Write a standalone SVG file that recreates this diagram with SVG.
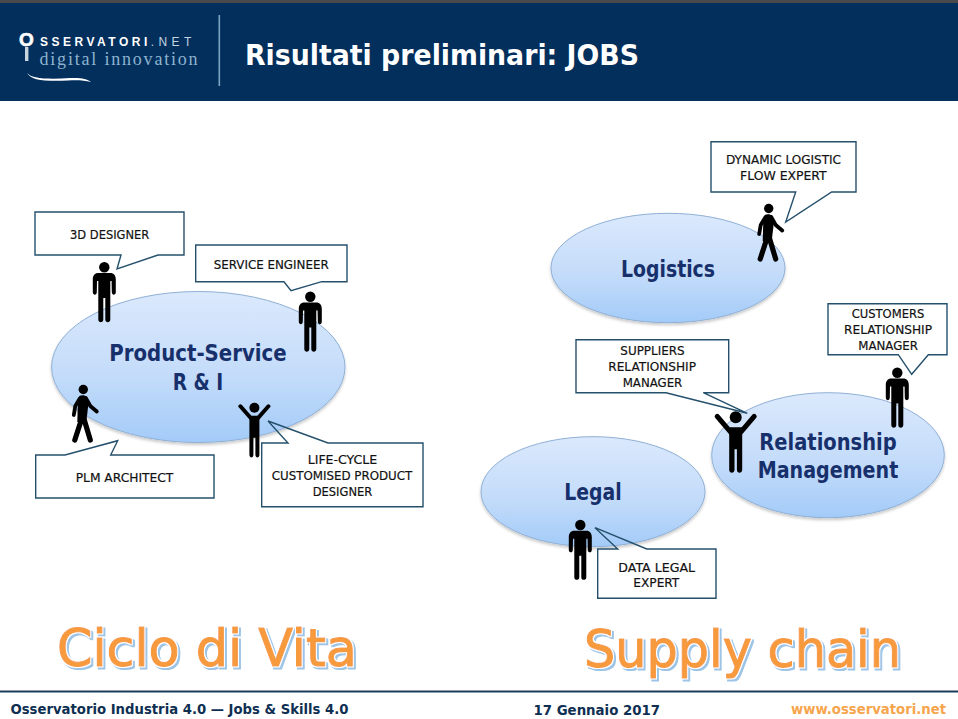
<svg xmlns="http://www.w3.org/2000/svg" xmlns:xlink="http://www.w3.org/1999/xlink" width="958" height="719" viewBox="0 0 958 719">
<style>
text{font-family:"DejaVu Sans","Liberation Sans",sans-serif}
.e{fill:url(#eg);stroke:#8fb0d6;stroke-width:1;filter:url(#sh)}
.c{fill:none;stroke:#24506c;stroke-width:1.4;stroke-linejoin:miter}
.b{fill:#fff}
.ct{font-size:13px;fill:#111;stroke:#111;stroke-width:0.2}
.el{font-size:23px;font-weight:bold;fill:#17306b}
.big{font-size:52px;fill:#f79a3c;stroke:#f79a3c;stroke-width:1.1;filter:url(#outl)}
.ft{font-size:14px;font-weight:bold;fill:#0f2f52}
</style>
<defs>
<linearGradient id="eg" x1="0" y1="0" x2="0" y2="1"><stop offset="0" stop-color="#dbe9fc"/><stop offset="0.55" stop-color="#c4dcfa"/><stop offset="1" stop-color="#a3cbf8"/></linearGradient>
<filter id="sh" x="-5%" y="-5%" width="110%" height="115%"><feDropShadow dx="0" dy="2" stdDeviation="1.5" flood-color="#000" flood-opacity="0.22"/></filter>
<filter id="outl" x="-5%" y="-10%" width="110%" height="125%">
<feMorphology in="SourceAlpha" operator="dilate" radius="1" result="d"/>
<feOffset in="d" dx="1.5" dy="1.5" result="o"/>
<feFlood flood-color="#9cc4e6"/><feComposite in2="o" operator="in" result="blue"/>
<feFlood flood-color="#fff"/><feComposite in2="d" operator="in" result="white"/>
<feMerge><feMergeNode in="blue"/><feMergeNode in="white"/><feMergeNode in="SourceGraphic"/></feMerge>
</filter>
<g id="stand"><circle cx="0" cy="5.300" r="5.200"/><path d="M-6,11H6C9.500,11 11.500,13.500 11.500,17.500L11.500,30C11.500,33.500 7.500,33.500 7.500,30L7.300,19L6,19L6,57.500C6,61 1,61 1,57.500L1,36L-1,36L-1,57.500C-1,61 -6,61 -6,57.500L-6,19L-7.300,19L-7.500,30C-7.500,33.500 -11.500,33.500 -11.500,30L-11.500,17.500C-11.500,13.500 -9.500,11 -6,11Z"/></g>
<g id="walk"><circle cx="0" cy="4.500" r="4.700"/><path d="M-4,11C-2,10 2,10 3.500,12L5,20L3,37L-6,37L-5.500,20Z"/><path d="M-3.500,13.500L-8,21L-9.500,30M2.500,13L7,21L13.500,26.500" fill="none" stroke="#000" stroke-width="3.800" stroke-linecap="round" stroke-linejoin="round"/><path d="M-2,35L-8.500,55M1,35L7,55" fill="none" stroke="#000" stroke-width="5.200" stroke-linecap="round"/></g>
<g id="up"><circle cx="0" cy="0" r="5"/><path d="M-14,-1.500L-3,11M14,-1.500L3,11" fill="none" stroke="#000" stroke-width="4" stroke-linecap="round"/><path d="M-5,8H5V47C5,50.500 1,50.500 1,47V30H-1V47C-1,50.500 -5,50.500 -5,47Z"/></g>
<g id="up2"><circle cx="0" cy="0" r="6"/><path d="M-18.500,-1L-4,16M18.500,-1L4,16" fill="none" stroke="#000" stroke-width="5" stroke-linecap="round"/><path d="M-6.500,10H6.500V52.500C6.500,56.500 1.200,56.500 1.200,52.500V32H-1.200V52.500C-1.200,56.500 -6.500,56.500 -6.500,52.500Z"/></g>
</defs>
<rect width="958" height="719" fill="#fff"/>
<g id="header">
<rect width="958" height="101" fill="#032f5d"/>
<rect width="958" height="3" fill="#484a4c"/>
<rect x="218.500" y="15" width="1.600" height="71" fill="#7fa3c2"/>
<g id="logo">
<rect x="25" y="47" width="3.400" height="14" fill="#c8d4de"/>
<text x="19" y="46" font-size="19" font-weight="bold" fill="#fff" stroke="#fff" stroke-width="0.6" style="font-family:'Liberation Sans',sans-serif">O<tspan x="40" y="45.800" font-size="12" stroke="none" letter-spacing="3.500">SSERVATORI</tspan><tspan font-weight="normal" letter-spacing="4.400" font-size="12" stroke="none" fill="#c3d5e3">.NET</tspan></text>
<text x="39.500" y="65" font-size="18" fill="#8db3cf" letter-spacing="1.800" style="font-family:'Liberation Serif',serif">digital innovation</text>
<path d="M27,72.500C30,79 50,79.500 70,78C80,77.500 87,78.500 91,82C84,80 76,80 68,80.500C48,81.500 30,81 27,72.500Z" fill="#fff"/>
</g>
<text x="245" y="65" font-size="28" font-weight="bold" fill="#fff" textLength="394" lengthAdjust="spacingAndGlyphs">Risultati preliminari: JOBS</text>
</g>

<g id="node-product-service"><ellipse class="e" cx="198.300" cy="367" rx="146.700" ry="75.500"/><text class="el" x="109.300" y="360.700" textLength="177.400" lengthAdjust="spacingAndGlyphs">Product-Service</text><text class="el" x="172.700" y="390" textLength="50.600" lengthAdjust="spacingAndGlyphs">R &amp; I</text></g>
<g id="node-logistics"><ellipse class="e" cx="668" cy="268" rx="117" ry="54.700"/><text class="el" x="621" y="276.700" textLength="94" lengthAdjust="spacingAndGlyphs">Logistics</text></g>
<g id="node-relationship"><ellipse class="e" cx="828" cy="455.200" rx="116.300" ry="62.500"/><text class="el" x="759.300" y="450" textLength="137.400" lengthAdjust="spacingAndGlyphs">Relationship</text><text class="el" x="757.700" y="478.300" textLength="140.600" lengthAdjust="spacingAndGlyphs">Management</text></g>
<g id="node-legal"><ellipse class="e" cx="593" cy="491.700" rx="112" ry="55"/><text class="el" x="564.300" y="500" textLength="57.400" lengthAdjust="spacingAndGlyphs">Legal</text></g>

<g id="person-3d"><use xlink:href="#stand" href="#stand" x="104.300" y="262"/></g>
<g id="person-service"><use xlink:href="#stand" href="#stand" x="310.300" y="291.500"/></g>
<g id="person-customers"><use xlink:href="#stand" href="#stand" x="897.300" y="367.500"/></g>
<g id="person-legal"><use xlink:href="#stand" href="#stand" x="580.300" y="519.700"/></g>
<g id="person-plm"><use xlink:href="#walk" href="#walk" x="83.300" y="385"/></g>
<g id="person-logistic"><use xlink:href="#walk" href="#walk" x="768.700" y="204"/></g>
<g id="person-lifecycle"><use xlink:href="#up" href="#up" x="254.400" y="407.800"/></g>
<g id="person-suppliers"><use xlink:href="#up2" href="#up2" x="735.700" y="417.300"/></g>

<g id="callout-3d"><rect class="b" x="35" y="212" width="149" height="43"/><path class="c" d="M35,212H184V255H158L117,269L121,255H35Z"/><text class="ct" x="70" y="239" textLength="79.300" lengthAdjust="spacingAndGlyphs">3D DESIGNER</text></g>
<g id="callout-service"><rect class="b" x="195.700" y="245" width="151.300" height="36.700"/><path class="c" d="M195.700,245H347V281.700H321.700L291,290.700L284,281.700H195.700Z"/><text class="ct" x="213.700" y="269" textLength="115" lengthAdjust="spacingAndGlyphs">SERVICE ENGINEER</text></g>
<g id="callout-plm"><rect class="b" x="35.700" y="455" width="178.300" height="43"/><path class="c" d="M35.700,455H65L117.700,440.700L110.700,455H214V498H35.700Z"/><text class="ct" x="75.700" y="482" textLength="97.600" lengthAdjust="spacingAndGlyphs">PLM ARCHITECT</text></g>
<g id="callout-lifecycle"><rect class="b" x="261.700" y="443" width="161.300" height="63.700"/><path class="c" d="M261.700,443H288L268,421L328,443H423V506.700H261.700Z"/><text class="ct" x="307.700" y="464.300" textLength="69.600" lengthAdjust="spacingAndGlyphs">LIFE-CYCLE</text><text class="ct" x="271.700" y="480" textLength="140.600" lengthAdjust="spacingAndGlyphs">CUSTOMISED PRODUCT</text><text class="ct" x="312.700" y="496" textLength="59.600" lengthAdjust="spacingAndGlyphs">DESIGNER</text></g>
<g id="callout-dynamic"><rect class="b" x="711" y="141.700" width="145" height="50.300"/><path class="c" d="M711,141.700H856V192H831.700L785.700,222L795.700,192H711Z"/><text class="ct" x="726" y="164" textLength="115" lengthAdjust="spacingAndGlyphs">DYNAMIC LOGISTIC</text><text class="ct" x="740" y="180" textLength="86.700" lengthAdjust="spacingAndGlyphs">FLOW EXPERT</text></g>
<g id="callout-customers"><rect class="b" x="828" y="303.700" width="119" height="51"/><path class="c" d="M828,303.700H947V354.700H928.300L911.700,374.300L898.300,354.700H828Z"/><text class="ct" x="851.700" y="318.300" textLength="72.600" lengthAdjust="spacingAndGlyphs">CUSTOMERS</text><text class="ct" x="844" y="334" textLength="88" lengthAdjust="spacingAndGlyphs">RELATIONSHIP</text><text class="ct" x="858.300" y="350" textLength="59.700" lengthAdjust="spacingAndGlyphs">MANAGER</text></g>
<g id="callout-suppliers"><rect class="b" x="576" y="339.700" width="152.700" height="53"/><path class="c" d="M576,339.700H728.700V392.700H703.300L747.300,413.300L666,392.700H576Z"/><text class="ct" x="620.300" y="355" textLength="64.400" lengthAdjust="spacingAndGlyphs">SUPPLIERS</text><text class="ct" x="608.300" y="371" textLength="87.700" lengthAdjust="spacingAndGlyphs">RELATIONSHIP</text><text class="ct" x="622.700" y="387" textLength="59.600" lengthAdjust="spacingAndGlyphs">MANAGER</text></g>
<g id="callout-legal"><rect class="b" x="597.700" y="549" width="118.300" height="49.300"/><path class="c" d="M597.700,549H617.700L595,527.700L646.700,549H716V598.300H597.700Z"/><text class="ct" x="618.300" y="571.700" textLength="76.700" lengthAdjust="spacingAndGlyphs">DATA LEGAL</text><text class="ct" x="633.300" y="587.300" textLength="46" lengthAdjust="spacingAndGlyphs">EXPERT</text></g>

<g id="titles">
<text class="big" x="57" y="666" textLength="300" lengthAdjust="spacingAndGlyphs">Ciclo di Vita</text>
<text class="big" x="584" y="666.500" textLength="317" lengthAdjust="spacingAndGlyphs">Supply chain</text>
</g>
<g id="footer">
<rect x="0" y="690.500" width="958" height="2" fill="#1c3c5c"/>
<text class="ft" x="10.500" y="714" textLength="338" lengthAdjust="spacingAndGlyphs">Osservatorio Industria 4.0 — Jobs &amp; Skills 4.0</text>
<text class="ft" x="533.500" y="714.500" textLength="126.500" lengthAdjust="spacingAndGlyphs">17 Gennaio 2017</text>
<text class="ft" x="791" y="714" textLength="155" lengthAdjust="spacingAndGlyphs" style="fill:#f7a54c">www.osservatori.net</text>
</g>
</svg>
